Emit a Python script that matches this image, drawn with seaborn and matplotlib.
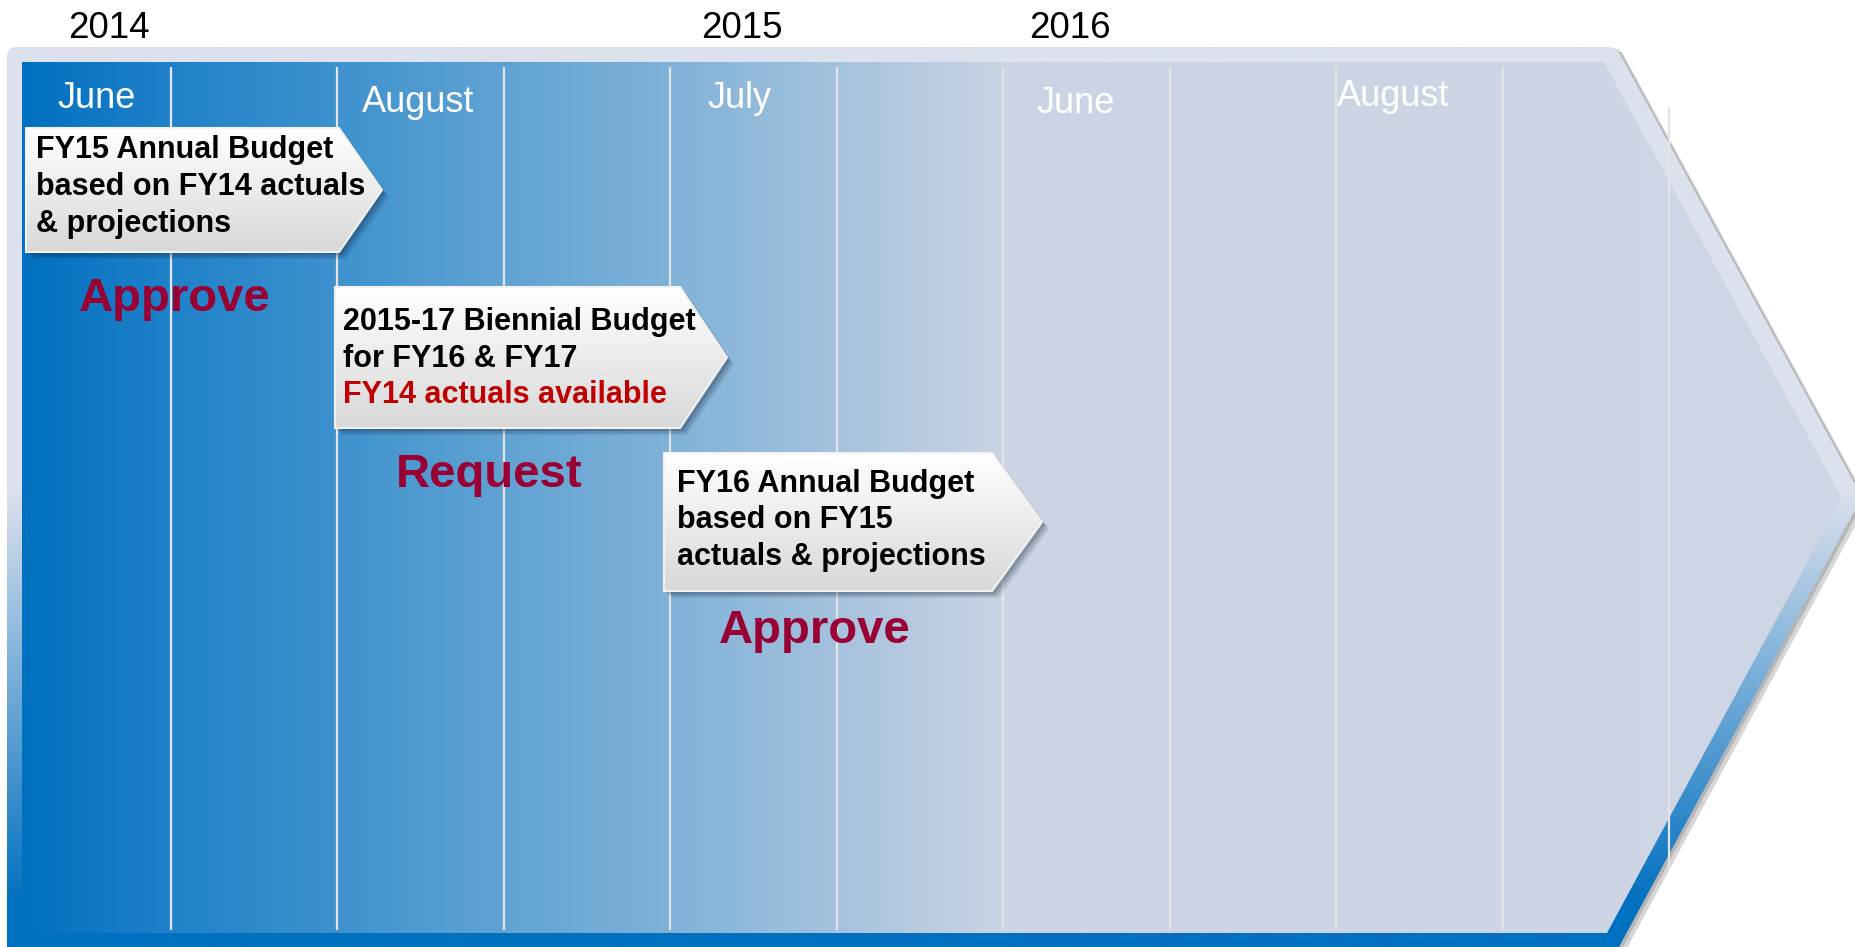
import numpy as np
import matplotlib
matplotlib.use("Agg")
import matplotlib.pyplot as plt
import seaborn as sns
from matplotlib.patches import Polygon, PathPatch
from matplotlib.path import Path
from matplotlib.colors import to_rgb

sns.set_theme(style="white")
plt.rcParams['font.family'] = ['Liberation Sans', 'DejaVu Sans']

# ---------------- data ----------------
years = ["2014", "2015", "2016"]
months = ["June", "August", "July", "June", "August"]
n_columns = 10
callout_lines = [
    ["FY15 Annual Budget", "based on FY14 actuals", "& projections"],
    ["2015-17 Biennial Budget", "for FY16 & FY17", "FY14 actuals available"],
    ["FY16 Annual Budget", "based on FY15", "actuals & projections"],
]
callout_highlight = [
    [False, False, False],
    [False, False, True],
    [False, False, False],
]
stage_labels = ["Approve", "Request", "Approve"]

# ---------------- layout (pixel canvas) ----------------
W, H = 1856, 947
COL_X0, COL_W = 4.5, 166.5
year_x = [109, 742, 1070]
year_base = 38
month_x = [97, 418, 740, 1076, 1393]
month_base = [108, 112, 108, 113, 106]
boxes = [  # left, top, right, tip_x, bottom
    (26, 128, 339, 382, 252),
    (335, 287, 680, 727, 428),
    (664, 453, 992, 1042, 591),
]
box_text_x = [36, 343, 677]
box_text_base = [[158, 195, 232], [330, 367, 403], [492, 528, 565]]
stage_x = [175, 489, 815]
stage_base = [311, 487, 643]

# colors
frame_light = to_rgb("#dce1ed")
blue = to_rgb("#0070c0")
grad_stops_x = [22, 171, 338, 505, 671, 838, 1004, 1856]
grad_stops_c = [(0, 112, 192), (32, 130, 201), (62, 146, 206), (97, 163, 211),
                (128, 178, 216), (165, 194, 222), (203, 211, 228), (207, 214, 229)]

fig = plt.figure(figsize=(W / 100, H / 100), dpi=100)
ax = fig.add_axes([0, 0, 1, 1])
ax.axis("off")


def rounded_path(pts, r):
    pts = np.asarray(pts, float)
    n = len(pts)
    verts, codes = [], []
    for i in range(n):
        p_prev, p, p_next = pts[i - 1], pts[i], pts[(i + 1) % n]
        rr = r[i] if np.iterable(r) else r
        d1 = (p_prev - p) / np.linalg.norm(p_prev - p)
        d2 = (p_next - p) / np.linalg.norm(p_next - p)
        a = p + d1 * rr
        b = p + d2 * rr
        verts.append(a)
        codes.append(Path.MOVETO if i == 0 else Path.LINETO)
        verts += [p, b]
        codes += [Path.CURVE3, Path.CURVE3]
    verts.append(verts[0])
    codes.append(Path.CLOSEPOLY)
    return Path(verts, codes)


# ---- outer frame ----
outer = [(7, 47), (1616, 47), (1862, 497), (1613, 958), (7, 958)]
ax.add_patch(Polygon([(x + 6, y + 5) for x, y in outer], closed=True,
                     fc=(0, 0, 0, 0.16), ec="none", zorder=0))
ax.add_patch(Polygon([(x + 3, y + 2) for x, y in outer], closed=True,
                     fc=(0, 0, 0, 0.15), ec="none", zorder=0))
outer_patch = PathPatch(rounded_path(outer, [9, 8, 2, 2, 9]), fc="none", ec="none")
ax.add_patch(outer_patch)
ys = np.linspace(0, 960, 400)
t = np.clip((ys - 490) / (905 - 490), 0, 1)
fcol = np.array(frame_light)[None, :] * (1 - t[:, None]) + np.array(blue)[None, :] * t[:, None]
img = ax.imshow(fcol[:, None, :], extent=(0, W, 960, 0), origin="upper",
                aspect="auto", zorder=1, interpolation="bilinear")
img.set_clip_path(outer_patch)

# ---- inner gradient area ----
inner = [(22, 62), (1604, 62), (1842, 498), (1607, 933), (22, 933)]
inner_patch = Polygon(inner, closed=True, fc="none", ec="none")
ax.add_patch(inner_patch)
xs = np.linspace(22, 1842, 900)
cols = np.stack([np.interp(xs, grad_stops_x, [c[k] for c in grad_stops_c])
                 for k in range(3)], axis=1) / 255
img2 = ax.imshow(cols[None, :, :], extent=(22, 1842, 933, 62), origin="upper",
                 aspect="auto", zorder=2, interpolation="bilinear")
img2.set_clip_path(inner_patch)

# ---- column separators ----
col_idx = np.arange(1, n_columns + 1)
line_x = COL_X0 + COL_W * col_idx
ax.vlines(line_x[:-1], 67, 930, colors="#e4e4e4", lw=1.6, zorder=3)
ax.vlines(line_x[-1:], 107, 870, colors="#e4e4e4", lw=1.6, zorder=3)

# ---- year and month labels ----
for label, x in zip(years, year_x):
    ax.text(x, year_base, label, ha="center", va="baseline", fontsize=26.5,
            color="black", zorder=5)
for label, x, yb in zip(months, month_x, month_base):
    ax.text(x, yb, label, ha="center", va="baseline", fontsize=26,
            color="white", zorder=5)

# ---- callouts ----
gy = np.linspace(0, 1, 200)
gcol = (np.array([1, 1, 1])[None, :] * (1 - gy[:, None])
        + np.array(to_rgb("#d8d8d8"))[None, :] * gy[:, None])
for (L, T, R, TX, B), lines, hl, tx, bases in zip(boxes, callout_lines, callout_highlight,
                                                 box_text_x, box_text_base):
    mid = (T + B) / 2
    pts = [(L, T), (R, T), (TX, mid), (R, B), (L, B)]
    for off, a in [(7, 0.10), (5, 0.14), (3, 0.18)]:
        ax.add_patch(Polygon([(x + off, y + off) for x, y in pts], closed=True,
                             fc=(0.05, 0.1, 0.2, a), ec="none", zorder=6))
    p = Polygon(pts, closed=True, fc="none", ec="#f2f2f2", lw=1.5, zorder=8)
    ax.add_patch(p)
    bimg = ax.imshow(gcol[:, None, :], extent=(L, TX, B, T), origin="upper",
                     aspect="auto", zorder=7, interpolation="bilinear")
    bimg.set_clip_path(p)
    for line, h, yb in zip(lines, hl, bases):
        ax.text(tx, yb, line, ha="left", va="baseline", fontsize=22,
                fontweight="bold", color="#c00000" if h else "black", zorder=9)

# ---- stage labels ----
for label, x, yb in zip(stage_labels, stage_x, stage_base):
    ax.text(x, yb, label, ha="center", va="baseline", fontsize=34,
            fontweight="bold", color="#990033", zorder=9)

ax.set_xlim(0, W)
ax.set_ylim(H, 0)
fig.savefig("out.png", dpi=100, facecolor="white")
